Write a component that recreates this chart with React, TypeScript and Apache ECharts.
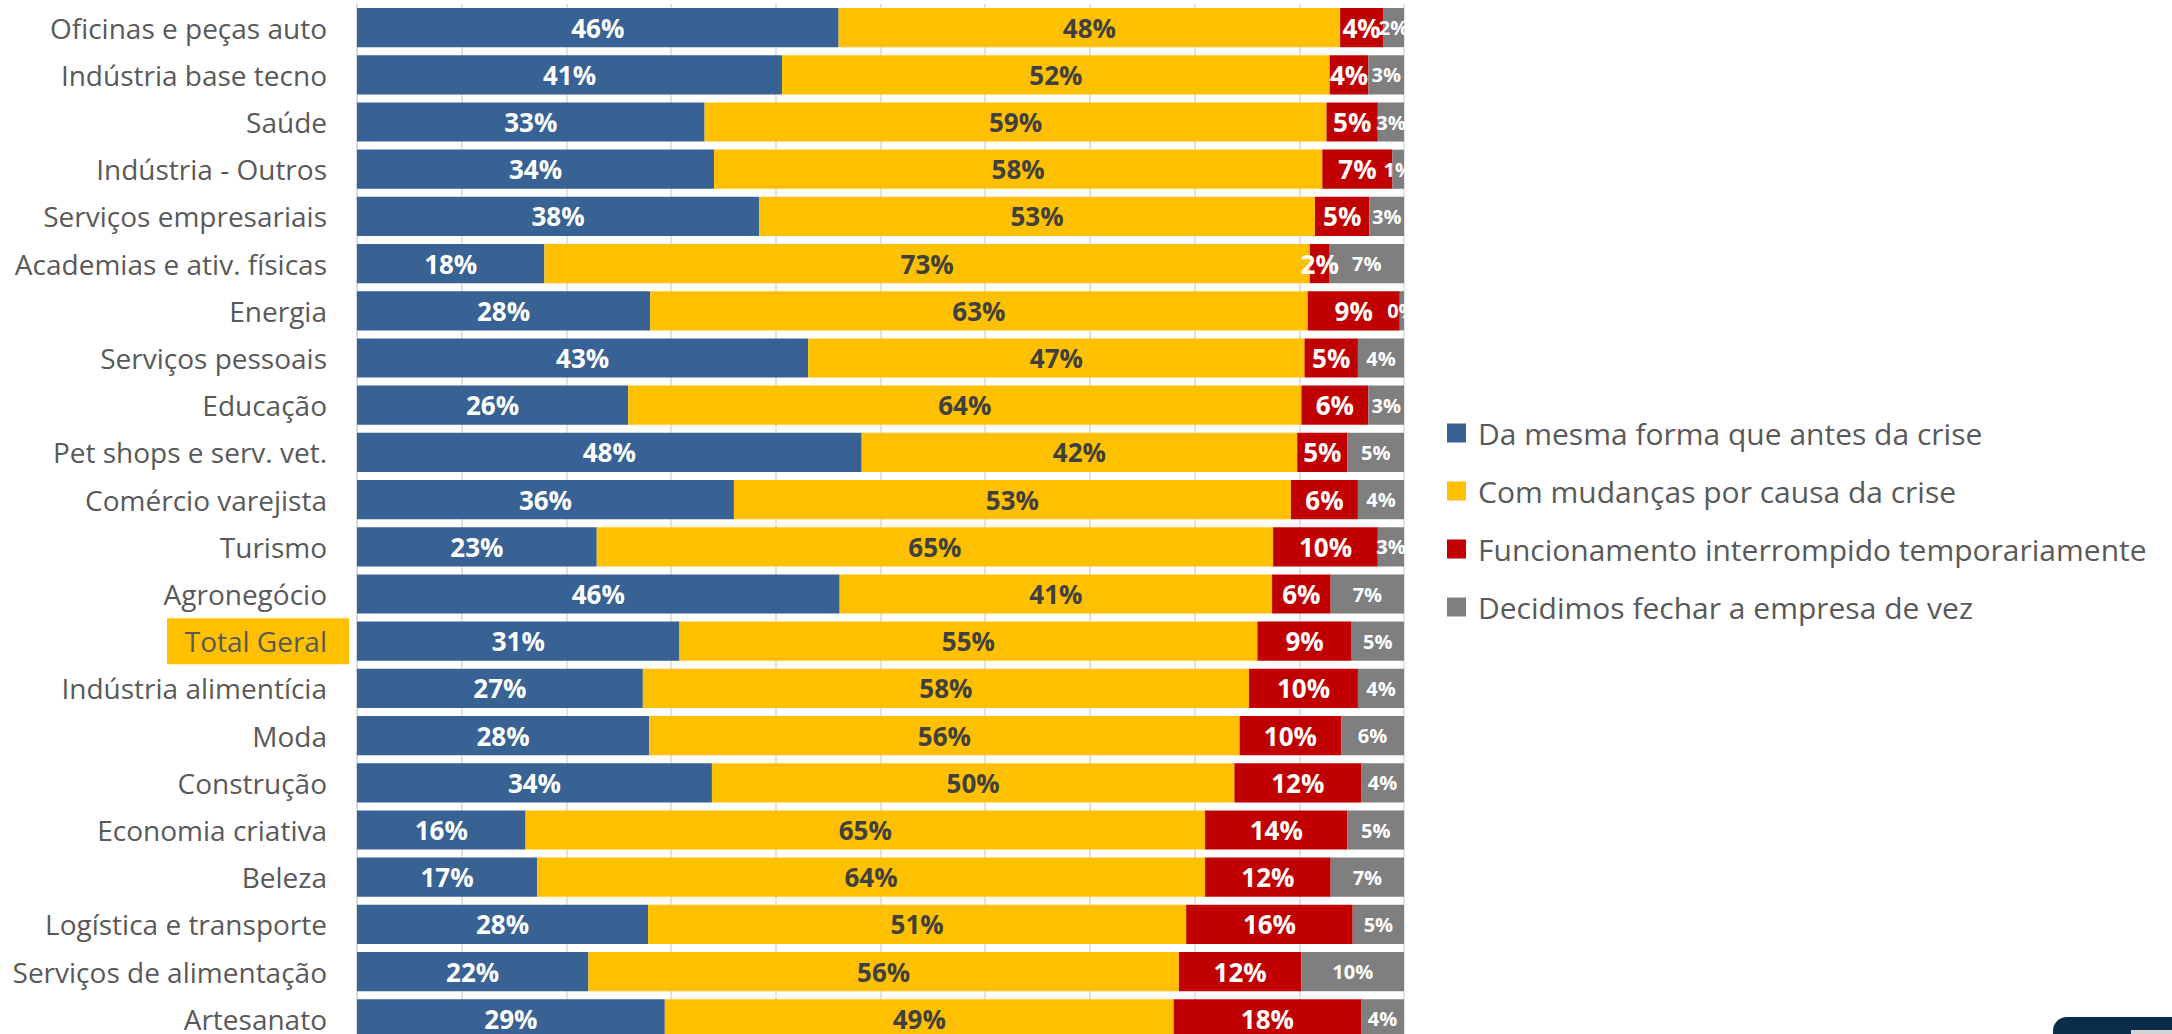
import React, { useEffect, useRef } from "react";
import * as echarts from "echarts";

const categories = [
  "Oficinas e peças auto",
  "Indústria base tecno",
  "Saúde",
  "Indústria - Outros",
  "Serviços empresariais",
  "Academias e ativ. físicas",
  "Energia",
  "Serviços pessoais",
  "Educação",
  "Pet shops e serv. vet.",
  "Comércio varejista",
  "Turismo",
  "Agronegócio",
  "Total Geral",
  "Indústria alimentícia",
  "Moda",
  "Construção",
  "Economia criativa",
  "Beleza",
  "Logística e transporte",
  "Serviços de alimentação",
  "Artesanato",
];

const seriesNames = [
  "Da mesma forma que antes da crise",
  "Com mudanças por causa da crise",
  "Funcionamento interrompido temporariamente",
  "Decidimos fechar a empresa de vez",
];

const mesmaForma = [46.0, 40.6, 33.2, 34.1, 38.4, 17.9, 28.0, 43.1, 25.9, 48.2, 36.0, 22.9, 46.1, 30.8, 27.3, 27.9, 33.9, 16.1, 17.2, 27.8, 22.1, 29.4];
const comMudancas = [47.9, 52.3, 59.4, 58.1, 53.1, 73.1, 62.8, 47.4, 64.3, 41.6, 53.2, 64.6, 41.3, 55.2, 57.9, 56.4, 49.9, 64.9, 63.8, 51.4, 56.4, 48.6];
const interrompido = [4.1, 3.7, 4.9, 6.7, 5.2, 1.9, 8.8, 5.1, 6.4, 4.8, 6.4, 10.0, 5.6, 9.0, 10.4, 9.7, 12.1, 13.6, 12.0, 15.9, 11.7, 17.9];
const fechar = [2.0, 3.4, 2.5, 1.1, 3.3, 7.1, 0.4, 4.4, 3.4, 5.4, 4.4, 2.5, 7.0, 5.0, 4.4, 6.0, 4.1, 5.4, 7.0, 4.9, 9.8, 4.1];

const highlighted = "Total Geral";

const colors = ["#386194", "#FFC000", "#C00000", "#7F7F7F"];
const labelColors = ["#FFFFFF", "#404040", "#FFFFFF", "#FFFFFF"];
const labelSizes = [26, 26, 26, 20];
const FONT = "'Open Sans', 'Noto Sans', sans-serif";

export default function App() {
  const ref = useRef<HTMLDivElement>(null);

  useEffect(() => {
    if (!ref.current) return;
    const chart = echarts.init(ref.current, null, { renderer: "svg" });
    const values = [mesmaForma, comMudancas, interrompido, fechar];

    chart.setOption({
      animation: false,
      backgroundColor: "#FFFFFF",
      textStyle: { fontFamily: FONT },
      grid: { left: 357, top: 4, width: 1047, height: 1038.4, containLabel: false },
      legend: {
        orient: "vertical",
        left: 1442,
        top: 413,
        itemWidth: 19,
        itemHeight: 19,
        itemGap: 28,
        icon: "rect",
        data: seriesNames,
        textStyle: { fontFamily: FONT, fontSize: 30, color: "#595959", padding: [0, 0, 0, 7], lineHeight: 30 },
      },
      xAxis: {
        type: "value",
        min: 0,
        max: 100,
        interval: 10,
        axisLabel: { show: false },
        axisLine: { show: false },
        axisTick: { show: false },
        splitLine: { show: true, lineStyle: { color: "#D9D9D9", width: 1.5 } },
      },
      yAxis: {
        type: "category",
        inverse: true,
        data: categories,
        axisTick: { show: false },
        axisLine: { show: true, lineStyle: { color: "#D9D9D9", width: 1.5 } },
        axisLabel: {
          fontFamily: FONT,
          fontSize: 28,
          color: "#595959",
          margin: 30,
        },
      },
      series: seriesNames.map((name, i) => ({
        name,
        type: "bar",
        stack: "total",
        barCategoryGap: "17%",
        data: values[i],
        itemStyle: { color: colors[i] },
        label: {
          show: true,
          position: "inside",
          fontFamily: FONT,
          fontWeight: "bold",
          fontSize: labelSizes[i],
          color: labelColors[i],
          formatter: (p: any) => Math.round(p.value) + "%",
        },
      })),
    });

    const yHl = chart.convertToPixel({ yAxisIndex: 0 }, highlighted) as number;
    chart.setOption({
      graphic: [
        {
          type: "rect",
          z: -1,
          shape: { x: 167, y: yHl - 23, width: 182, height: 46 },
          style: { fill: "#FFC000" },
        },
        {
          type: "rect",
          z: 10,
          shape: { x: 2053, y: 1017, width: 140, height: 60, r: [14, 0, 0, 0] },
          style: { fill: "#0B2D4B" },
        },
        {
          type: "rect",
          z: 11,
          shape: { x: 2131, y: 1030, width: 60, height: 10 },
          style: { fill: "#D4D4D4" },
        },
      ],
    });

    return () => chart.dispose();
  }, []);

  return (
    <div style={{ position: "fixed", left: 0, top: 0, width: 2172, height: 1034, overflow: "hidden", background: "#fff" }}>
      <div ref={ref} style={{ width: 2172, height: 1070 }} />
    </div>
  );
}
